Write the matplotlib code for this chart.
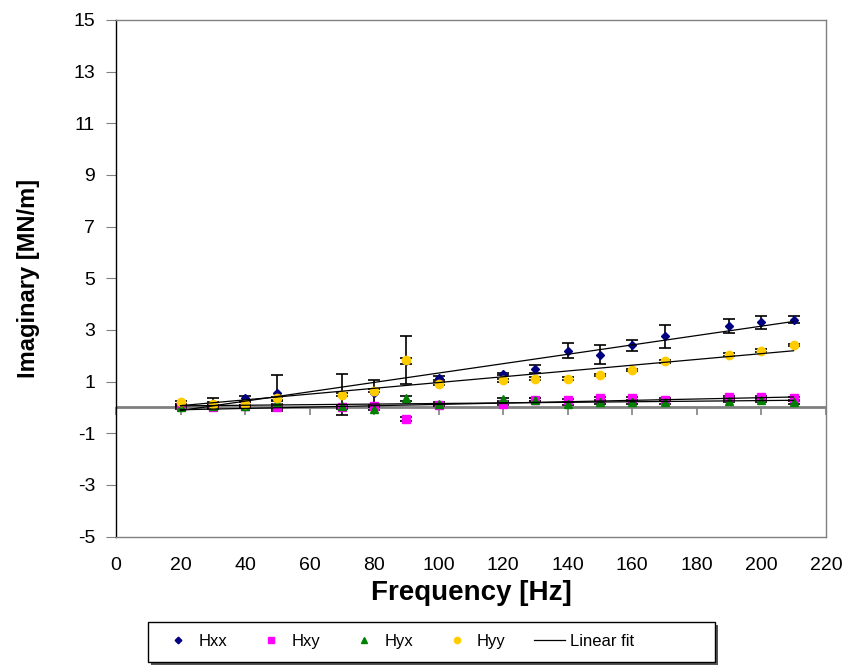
import numpy as np
import matplotlib
matplotlib.use("Agg")
import matplotlib.pyplot as plt
from matplotlib.lines import Line2D
from matplotlib.patches import Rectangle

plt.rcParams["font.family"] = ["Liberation Sans", "DejaVu Sans"]
plt.rcParams["axes.unicode_minus"] = False

freq = [20, 30, 40, 50, 70, 80, 90, 100, 120, 130, 140, 150, 160, 170, 190, 200, 210]

hxx = [0.10, 0.15, 0.35, 0.55, 0.50, 0.55, 1.80, 1.15, 1.30, 1.50, 2.20, 2.05, 2.40, 2.75, 3.15, 3.30, 3.40]
hxx_err = [0.05, 0.20, 0.10, 0.70, 0.80, 0.50, 0.10, 0.08, 0.05, 0.15, 0.30, 0.38, 0.23, 0.44, 0.26, 0.25, 0.14]

hxy = [0.05, 0.00, 0.05, 0.00, 0.00, 0.05, -0.45, 0.10, 0.15, 0.30, 0.28, 0.35, 0.35, 0.30, 0.40, 0.40, 0.35]
hxy_err = [0.05, 0.05, 0.05, 0.05, 0.05, 0.05, 0.08, 0.05, 0.05, 0.05, 0.05, 0.05, 0.05, 0.05, 0.05, 0.05, 0.05]

hyx = [0.00, 0.05, 0.05, 0.20, 0.05, -0.05, 0.35, 0.15, 0.32, 0.30, 0.15, 0.20, 0.20, 0.20, 0.25, 0.28, 0.20]
hyx_err = [0.05, 0.05, 0.05, 0.05, 0.05, 0.05, 0.10, 0.05, 0.05, 0.05, 0.05, 0.05, 0.05, 0.05, 0.05, 0.05, 0.05]

hyy = [0.20, 0.15, 0.15, 0.35, 0.50, 0.65, 1.85, 0.92, 1.05, 1.12, 1.12, 1.25, 1.45, 1.78, 2.05, 2.20, 2.42]
hyy_err = [0.05, 0.05, 0.05, 0.05, 0.05, 0.05, 0.93, 0.05, 0.05, 0.05, 0.05, 0.05, 0.05, 0.05, 0.05, 0.05, 0.05]

series = [
    ("Hxx", hxx, hxx_err, "D", "#000080", 4.5),
    ("Hxy", hxy, hxy_err, "s", "#FF00FF", 5.5),
    ("Hyx", hyx, hyx_err, "^", "#008000", 6),
    ("Hyy", hyy, hyy_err, "o", "#FFCC00", 6),
]

fig = plt.figure(figsize=(8.47, 6.65), dpi=100)
ax = fig.add_axes([0.137, 0.193, 0.838, 0.777])

ax.axhline(0, color="#808080", lw=2, zorder=1)
x = np.array(freq)
for name, y, err, mk, col, ms in series:
    ax.errorbar(x, y, yerr=err, fmt="none", ecolor="black", elinewidth=1.2,
                capsize=4, capthick=1.2, zorder=2)
for name, y, err, mk, col, ms in series:
    ax.plot(x, y, linestyle="none", marker=mk, color=col, ms=ms, zorder=3)
    k, b = np.polyfit(x, y, 1)
    ax.plot(x, k * x + b, color="black", lw=0.9, zorder=4)

ax.set_xlim(0, 220)
ax.set_ylim(-5, 15)
ax.set_xticks(range(0, 221, 20))
ax.set_yticks(range(-5, 16, 2))
ax.tick_params(axis="x", length=0, labelsize=14, pad=15)
ax.tick_params(axis="y", length=7, labelsize=14, direction="out", pad=8,
               color="#808080")
# x-axis ticks sit on the zero line
ax.plot(range(0, 221, 20), [0] * 12, linestyle="none", marker=3, ms=6,
        color="#808080", mew=1.2, zorder=1, clip_on=False)
for side, s in ax.spines.items():
    s.set_linewidth(1.0)
    s.set_color("black" if side == "left" else "#808080")

ax.set_xlabel("Frequency [Hz]", fontsize=20, fontweight="bold", labelpad=4)
ax.set_ylabel("Imaginary [MN/m]", fontsize=17, fontweight="bold", labelpad=24)

# legend box with drop shadow
bx, by, bw, bh = 0.1747, 0.0045, 0.6694, 0.0602
fig.patches.append(Rectangle((bx + 0.004, by - 0.005), bw, bh, transform=fig.transFigure,
                             facecolor="#555555", edgecolor="none", zorder=0))
fig.patches.append(Rectangle((bx, by), bw, bh, transform=fig.transFigure,
                             facecolor="white", edgecolor="black", lw=1.0, zorder=1))

handles = [Line2D([], [], linestyle="none", marker=mk, color=col, ms=ms * 0.75)
           for name, y, err, mk, col, ms in series]
handles.append(Line2D([], [], color="black", lw=0.9))
labels = [s[0] for s in series] + ["Linear fit"]
leg = fig.legend(handles, labels, loc="center left", bbox_to_anchor=(0.1924, 0.035),
                 ncol=5, fontsize=12, frameon=False,
                 columnspacing=1.69, handletextpad=0.3, handlelength=1.85,
                 borderpad=0, borderaxespad=0)

fig.savefig("out.png", dpi=100)
